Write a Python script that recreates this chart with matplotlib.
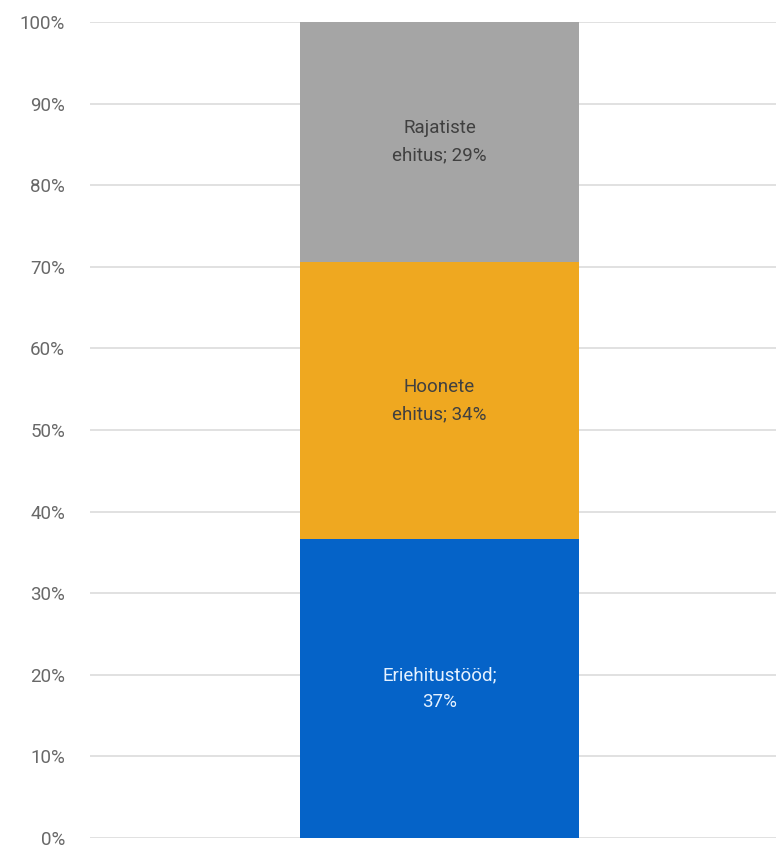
import matplotlib.pyplot as plt

# andmed (protsent)
kategooriad = ["Eriehitustööd", "Hoonete ehitus", "Rajatiste ehitus"]
vaartused = [36.6, 34.0, 29.4]
sildid = ["Eriehitustööd;\n37%", "Hoonete\nehitus; 34%", "Rajatiste\nehitus; 29%"]
varvid = ["#0563C8", "#EFA820", "#A5A5A5"]
teksti_varvid = ["#E6F2FF", "#404040", "#404040"]
y_ticks = list(range(0, 101, 10))

plt.rcParams['font.family'] = ['Roboto', 'DejaVu Sans']

fig = plt.figure(figsize=(7.76, 8.49), dpi=100)
ax = fig.add_axes([0.116, 0.013, 0.884, 0.961])

alus = 0
for v, s, c, tc in zip(vaartused, sildid, varvid, teksti_varvid):
    ax.bar(0, v, bottom=alus, width=0.4067, color=c, zorder=3)
    ax.text(0, alus + v / 2, s, ha="center", va="center", color=tc,
            fontsize=13.5, linespacing=1.65, zorder=4)
    alus += v

ax.set_xlim(-0.5095, 0.4905)
ax.set_ylim(0, 100)
ax.set_yticks(y_ticks)
ax.set_yticklabels([f"{t}%" for t in y_ticks], color="#686868", fontsize=13.5)
ax.set_xticks([])
ax.tick_params(axis="y", length=0, pad=18)
ax.grid(axis="y", color="#DCDCDC", linewidth=1.2, zorder=0)
for sp in ax.spines.values():
    sp.set_visible(False)

fig.savefig("out.png", dpi=100)
